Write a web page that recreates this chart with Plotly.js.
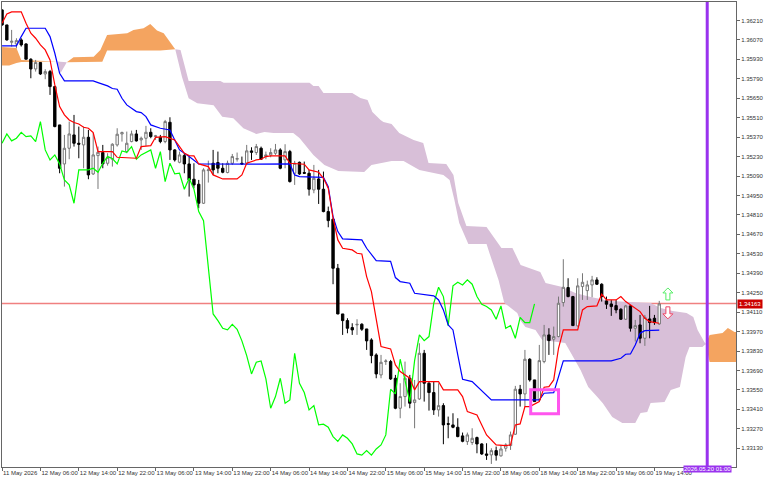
<!DOCTYPE html>
<html>
<head>
<meta charset="utf-8">
<script src="https://cdn.plot.ly/plotly-3.0.1.min.js"></script>
<style>
  html, body { margin: 0; padding: 0; background: #fff; }
</style>
</head>
<body>
<div id="chart" style="width:768px;height:480px"></div>
<script>
// H1 candles, bar 0 = 11 May 2026 22:00
var open = [1.36286,1.36178,1.36053,1.36041,1.36070,1.36041,1.35931,1.35861,1.35907,1.35825,
  1.35842,1.35734,1.35458,1.35177,1.35290,1.35386,1.35326,1.35314,1.35369,1.35105,
  1.35237,1.35259,1.35182,1.35211,1.35314,1.35393,1.35266,1.35338,1.35393,1.35350,
  1.35362,1.35405,1.35374,1.35369,1.35338,1.35477,1.35278,1.35189,1.35237,1.35177,
  1.35067,1.35031,1.34894,1.35129,1.35182,1.35187,1.35146,1.35115,1.35182,1.35211,
  1.35182,1.35182,1.35271,1.35259,1.35290,1.35230,1.35242,1.35254,1.35278,1.35206,
  1.35266,1.35110,1.35189,1.35115,1.35110,1.34990,1.35069,1.34995,1.34834,1.34779,
  1.34426,1.34097,1.34049,1.33999,1.34018,1.34023,1.33989,1.33910,1.33802,1.33658,
  1.33754,1.33754,1.33634,1.33418,1.33502,1.33634,1.33459,1.33485,1.33814,1.33598,
  1.33531,1.33406,1.33437,1.33307,1.33298,1.33281,1.33219,1.33178,1.33171,1.33207,
  1.33161,1.33089,1.33082,1.33113,1.33075,1.33130,1.33149,1.33231,1.33555,1.33521,
  1.33771,1.33622,1.33478,1.33754,1.33946,1.33915,1.33934,1.34179,1.34287,1.34222,
  1.34011,1.34294,1.34265,1.34306,1.34342,1.34311,1.34191,1.34169,1.34157,1.34131,
  1.34059,1.34155,1.33994,1.34018,1.33922,1.34061,1.34066,1.34025];
var high = [1.36291,1.36178,1.36142,1.36082,1.36082,1.36046,1.35938,1.35926,1.35907,1.35859,
  1.35854,1.35739,1.35458,1.35386,1.35482,1.35530,1.35446,1.35446,1.35422,1.35398,
  1.35302,1.35314,1.35254,1.35326,1.35434,1.35410,1.35410,1.35417,1.35422,1.35374,
  1.35451,1.35434,1.35386,1.35386,1.35494,1.35513,1.35283,1.35266,1.35254,1.35230,
  1.35182,1.35062,1.35146,1.35201,1.35278,1.35266,1.35182,1.35201,1.35249,1.35259,
  1.35230,1.35314,1.35297,1.35321,1.35302,1.35266,1.35290,1.35321,1.35290,1.35319,
  1.35278,1.35199,1.35194,1.35194,1.35134,1.35170,1.35134,1.35122,1.34870,1.34786,
  1.34457,1.34097,1.34066,1.34030,1.34059,1.34030,1.33989,1.33922,1.33814,1.33802,
  1.33771,1.33766,1.33658,1.33598,1.33754,1.33658,1.33622,1.33886,1.33838,1.33610,
  1.33610,1.33598,1.33454,1.33358,1.33382,1.33346,1.33243,1.33243,1.33274,1.33214,
  1.33166,1.33166,1.33130,1.33142,1.33154,1.33166,1.33250,1.33579,1.33586,1.33838,
  1.33778,1.33622,1.33874,1.34018,1.33994,1.34006,1.34222,1.34491,1.34354,1.34227,
  1.34354,1.34390,1.34337,1.34371,1.34361,1.34318,1.34222,1.34198,1.34198,1.34138,
  1.34162,1.34162,1.34054,1.34090,1.34090,1.34155,1.34090,1.34191];
var low = [1.36171,1.36065,1.36022,1.36010,1.36022,1.35931,1.35794,1.35842,1.35818,1.35787,
  1.35674,1.35441,1.35110,1.35014,1.35211,1.35302,1.35218,1.35146,1.35067,1.35098,
  1.34997,1.35146,1.35165,1.35158,1.35302,1.35338,1.35254,1.35333,1.35338,1.35278,
  1.35307,1.35362,1.35350,1.35326,1.35326,1.35206,1.35194,1.35182,1.35110,1.34942,
  1.35002,1.34858,1.34889,1.35043,1.35098,1.35110,1.35110,1.35110,1.35170,1.35194,
  1.35170,1.35170,1.35206,1.35242,1.35206,1.35211,1.35225,1.35242,1.35139,1.35146,
  1.35043,1.35026,1.35098,1.35105,1.34949,1.34966,1.34889,1.34829,1.34721,1.34311,
  1.34095,1.33946,1.33958,1.33946,1.33946,1.33975,1.33838,1.33742,1.33634,1.33634,
  1.33730,1.33622,1.33411,1.33346,1.33430,1.33418,1.33274,1.33478,1.33466,1.33401,
  1.33370,1.33358,1.33159,1.33202,1.33274,1.33209,1.33173,1.33154,1.33154,1.33094,
  1.33082,1.33046,1.33017,1.33041,1.33070,1.33106,1.33118,1.33226,1.33430,1.33430,
  1.33610,1.33466,1.33466,1.33742,1.33802,1.33802,1.33929,1.34150,1.34217,1.34011,
  1.34006,1.34198,1.34198,1.34217,1.34306,1.34186,1.34133,1.34083,1.34102,1.34054,
  1.34054,1.33970,1.33898,1.33886,1.33867,1.33922,1.34018,1.34018];
var close = [1.36178,1.36070,1.36060,1.36065,1.36034,1.35931,1.35861,1.35907,1.35825,1.35842,
  1.35734,1.35446,1.35146,1.35290,1.35393,1.35326,1.35319,1.35369,1.35098,1.35242,
  1.35261,1.35177,1.35225,1.35319,1.35391,1.35403,1.35326,1.35393,1.35343,1.35362,
  1.35405,1.35374,1.35379,1.35338,1.35482,1.35278,1.35206,1.35242,1.35177,1.35062,
  1.35026,1.34894,1.35134,1.35134,1.35134,1.35146,1.35117,1.35182,1.35230,1.35216,
  1.35177,1.35271,1.35261,1.35302,1.35211,1.35242,1.35259,1.35278,1.35146,1.35266,
  1.35050,1.35182,1.35105,1.35110,1.34995,1.35074,1.34995,1.34834,1.34769,1.34426,
  1.34097,1.34049,1.33994,1.33982,1.34022,1.33987,1.33903,1.33797,1.33665,1.33749,
  1.33758,1.33629,1.33418,1.33502,1.33634,1.33454,1.33478,1.33814,1.33598,1.33531,
  1.33406,1.33437,1.33298,1.33303,1.33281,1.33214,1.33180,1.33226,1.33202,1.33161,
  1.33089,1.33080,1.33113,1.33080,1.33125,1.33154,1.33226,1.33555,1.33521,1.33771,
  1.33622,1.33466,1.33761,1.33946,1.33905,1.33934,1.34174,1.34289,1.34222,1.34013,
  1.34299,1.34325,1.34306,1.34342,1.34311,1.34222,1.34167,1.34150,1.34126,1.34059,
  1.34155,1.33994,1.34013,1.33922,1.34073,1.34035,1.34035,1.34169];

// chikou span starts at bar 0
var chikou = [1.35326,1.35393,1.35343,1.35362,1.35405,1.35374,1.35379,1.35338,1.35482,1.35278,
  1.35206,1.35242,1.35177,1.35062,1.35026,1.34894,1.35134,1.35134,1.35134,1.35146,
  1.35117,1.35182,1.35230,1.35216,1.35177,1.35271,1.35261,1.35302,1.35211,1.35242,
  1.35259,1.35278,1.35146,1.35266,1.35050,1.35182,1.35105,1.35110,1.34995,1.35074,
  1.34995,1.34834,1.34769,1.34426,1.34097,1.34049,1.33994,1.33982,1.34022,1.33987,
  1.33903,1.33797,1.33665,1.33749,1.33758,1.33629,1.33418,1.33502,1.33634,1.33454,
  1.33478,1.33814,1.33598,1.33531,1.33406,1.33437,1.33298,1.33303,1.33281,1.33214,
  1.33180,1.33226,1.33202,1.33161,1.33089,1.33080,1.33113,1.33080,1.33125,1.33154,
  1.33226,1.33555,1.33521,1.33771,1.33622,1.33466,1.33761,1.33946,1.33905,1.33934,
  1.34174,1.34289,1.34222,1.34013,1.34299,1.34325,1.34306,1.34342,1.34311,1.34222,
  1.34167,1.34150,1.34126,1.34059,1.34155,1.33994,1.34013,1.33922,1.34073,1.34035,
  1.34035,1.34169];

var tenkanBars = [0,1,2,4,5,6,7,8,9,10,11,12,13,14,15,16,17,18,19,20,23,24,28,29,31,32,34,36,37,38,39,40,41,43,44,46,49,50,51,53,
  54,55,56,59,60,63,64,66,67,68,69,70,71,73,74,75,76,77,78,79,81,82,83,85,86,87,91,92,95,96,97,99,101,103,105,106,107,108,109,110,112,113,114,115,116,117,
  120,121,122,124,125,126,128,129,130,132,133,134,135,137];
var tenkan = [1.36190,1.36257,1.36272,1.36272,1.36190,1.36118,1.36082,1.36034,1.35998,1.35926,1.35746,1.35590,1.35530,1.35494,1.35475,1.35465,1.35441,1.35434,1.35403,1.35266,1.35266,1.35225,1.35218,1.35302,1.35309,1.35369,1.35374,1.35350,1.35302,1.35254,1.35237,1.35235,1.35177,1.35158,1.35098,1.35069,1.35069,1.35098,1.35182,1.35206,
  1.35211,1.35230,1.35235,1.35235,1.35182,1.35175,1.35134,1.35117,1.35074,1.35002,1.34786,1.34630,1.34570,1.34558,1.34534,1.34529,1.34366,1.34258,1.34059,1.33862,1.33845,1.33730,1.33682,1.33634,1.33550,1.33610,1.33610,1.33550,1.33550,1.33502,1.33394,1.33370,1.33226,1.33154,1.33149,1.33154,1.33298,1.33305,1.33430,1.33430,1.33466,1.33569,1.33574,1.33622,1.33850,1.33982,
  1.33982,1.34126,1.34150,1.34155,1.34239,1.34198,1.34198,1.34222,1.34186,1.34138,1.34114,1.34066,1.34042,1.34030];

var kijunBars = [0,3,4,5,9,10,11,12,13,19,20,22,23,24,25,26,28,29,30,31,33,34,35,36,37,39,41,53,60,61,62,67,68,69,70,71,75,76,78,81,82,83,85,86,90,91,92,93,94,95,96,98,102,112,113,115,117,127,129,130,131,132,133,134,137];
var kijun = [1.36027,1.36027,1.36094,1.36154,1.36154,1.36094,1.35974,1.35830,1.35775,1.35775,1.35763,1.35739,1.35720,1.35715,1.35650,1.35602,1.35554,1.35547,1.35518,1.35458,1.35434,1.35427,1.35422,1.35350,1.35278,1.35230,1.35177,1.35175,1.35177,1.35098,1.35086,1.35081,1.35014,1.34798,1.34690,1.34637,1.34630,1.34570,1.34481,1.34476,1.34359,1.34330,1.34318,1.34246,1.34227,1.34198,1.34126,1.34018,1.33982,1.33802,1.33627,1.33610,1.33478,1.33478,1.33526,1.33531,1.33759,1.33759,1.33778,1.33807,1.33809,1.33874,1.33958,1.33977,1.33980];

// kumo pieces, edges read separately
var orange1TopBars = [0,3,4,11.5];
var orange1Top = [1.36019,1.36012,1.35926,1.35915];
var orange1BotBars = [0,1.5,3,4,11.5];
var orange1Bot = [1.35886,1.35886,1.35904,1.35911,1.35915];

var thistle1TopBars = [11.5,13.5];
var thistle1Top = [1.35915,1.35909];
var thistle1BotBars = [11.5,12.2,13.5];
var thistle1Bot = [1.35915,1.35832,1.35909];

var orange2TopBars = [13.5,14.9,19.1,20.5,21.9,26.1,27.4,29.5,30.9,32.3,33.7,36.1];
var orange2Top = [1.35909,1.35945,1.35949,1.35998,1.36106,1.36118,1.36142,1.36154,1.36185,1.36137,1.36118,1.36003];
var orange2BotBars = [13.5,20.9,21.9,33,36.1];
var orange2Bot = [1.35909,1.35913,1.35993,1.35993,1.36003];

var thistle2TopBars = [36.1,37.2,38.9,45.5,46.2,64.1,64.9,66,67,73,74.7,76.2,77.2,78.9,79.5,81.2,82.8,85.8,87.8,88.9,92.6,94.1,95.1,96.8,101,104.1,106.4,108.1,112.2,113.3,116.8,119.5,122.7,126.8,135.2,137.3,139.8,142.7,144.1,145,146.4,146.7];
var thistle2Top = [1.36003,1.35998,1.35774,1.35774,1.35762,1.35762,1.35738,1.35738,1.35688,1.35688,1.35652,1.35638,1.35551,1.35494,1.35479,1.35465,1.35400,1.35350,1.35328,1.35184,1.35177,1.35098,1.34896,1.34730,1.34723,1.34572,1.34572,1.34450,1.34399,1.34320,1.34291,1.34248,1.34219,1.34190,1.34176,1.34140,1.34118,1.34104,1.34075,1.33982,1.33895,1.33880];
var thistle2BotBars = [36.1,37.5,38.9,40.7,44.1,45.9,48.2,50.3,53,54.7,56.6,60.7,62,64.9,67.2,70.1,75.5,77,81.2,83.7,87,92,93.3,94.3,95.3,97.2,101,101.6,103.5,104.7,107.4,108,109.1,111.2,112.6,117.4,120.6,122.2,124.1,125.2,127.2,129.3,132,133.1,134.5,135.2,138.1,139.4,141.3,142.5,143.3,146,146.7];
var thistle2Bot = [1.36003,1.35805,1.35650,1.35614,1.35599,1.35517,1.35506,1.35434,1.35393,1.35407,1.35400,1.35400,1.35364,1.35242,1.35170,1.35126,1.35119,1.35170,1.35198,1.35198,1.35134,1.35098,1.35062,1.34918,1.34752,1.34601,1.34601,1.34536,1.34342,1.34176,1.34104,1.34054,1.34003,1.33982,1.33910,1.33888,1.33694,1.33571,1.33499,1.33456,1.33355,1.33312,1.33312,1.33384,1.33391,1.33456,1.33463,1.33550,1.33571,1.33787,1.33859,1.33859,1.33880];

var orange3TopBars = [146.7,147.5,150.2,151.3,152.7,153.5];
var orange3Top = [1.33880,1.33946,1.33960,1.33996,1.33967,1.33967];
var orange3BotBars = [146.7,147.5,153.5];
var orange3Bot = [1.33880,1.33751,1.33751];

var priceTicks = [1.36210,1.36070,1.35930,1.35790,1.35650,1.35510,1.35370,1.35230,1.35090,1.34950,1.34810,1.34670,1.34530,1.34390,1.34250,1.34110,1.33970,1.33830,1.33690,1.33550,1.33410,1.33270,1.33130];
var timeTickBars = [0,8,16,24,32,40,48,56,64,72,80,88,96,104,112,120,128,136];
var timeTickLabels = ['11 May 2026','12 May 06:00','12 May 14:00','12 May 22:00','13 May 06:00','13 May 14:00','13 May 22:00','14 May 06:00','14 May 14:00','14 May 22:00','15 May 06:00','15 May 14:00','15 May 22:00','18 May 06:00','18 May 14:00','18 May 22:00','19 May 06:00','19 May 14:00'];

var bidLevel = 1.34172;
var bidLabel = '1.34163';
var cursorBar = 147;
var cursorLabel = '2026.05.20 01:00';

var ORANGE = '#f4a460';
var THISTLE = '#d8bfd8';
var AXIS_FONT = {family: '"Liberation Sans", sans-serif', size: 6, color: '#333'};

// shapes sit under the candles, a filled scatter would cover them
function cloudPiece(topBars, top, botBars, bot, color) {
  var xs = topBars.concat(botBars.slice().reverse());
  var ys = top.concat(bot.slice().reverse());
  var d = xs.map(function(x, i) { return (i === 0 ? 'M' : 'L') + x + ',' + ys[i]; }).join(' ') + ' Z';
  return {type: 'path', xref: 'x', yref: 'y', path: d, fillcolor: color, line: {width: 0}, layer: 'below'};
}

function arrowShape(bar, price, tip, color) {
  // pixel outline around a data anchor, tip = 1 points up, -1 down
  var pts = [[0,6],[5,1],[2,1],[2,-6],[-2,-6],[-2,1],[-5,1]];
  var d = pts.map(function(p, i) { return (i === 0 ? 'M' : 'L') + p[0] + ',' + (p[1] * tip); }).join(' ') + ' Z';
  return {type: 'path', xref: 'x', yref: 'y', xsizemode: 'pixel', ysizemode: 'pixel', xanchor: bar, yanchor: price,
    path: d, fillcolor: '#fff', line: {color: color, width: 1}};
}

function lineTrace(x, y, color, width) {
  return {x: x, y: y, type: 'scatter', mode: 'lines', line: {color: color, width: width}, hoverinfo: 'skip'};
}

var bars = open.map(function(v, i) { return i; });

var candles = {
  x: bars, open: open, high: high, low: low, close: close,
  type: 'candlestick',
  whiskerwidth: 0,
  increasing: {line: {color: '#777', width: 1}, fillcolor: '#fff'},
  decreasing: {line: {color: '#000', width: 1}, fillcolor: '#000'},
  hoverinfo: 'skip'
};

var traces = [
  candles,
  lineTrace(bars.slice(0, chikou.length), chikou, '#00ff00', 1.2),
  lineTrace(kijunBars, kijun, '#0000ff', 1.2),
  lineTrace(tenkanBars, tenkan, '#ff0000', 1.2)
];

var layout = {
  width: 768,
  height: 480,
  margin: {l: 2, r: 32, t: 2, b: 13, pad: 0},
  paper_bgcolor: '#fff',
  plot_bgcolor: '#fff',
  showlegend: false,
  xaxis: {
    type: 'linear',
    range: [-0.01, 153],
    rangeslider: {visible: false},
    showgrid: false,
    zeroline: false,
    showline: true,
    mirror: true,
    linecolor: '#666',
    linewidth: 1,
    ticks: 'outside',
    ticklen: 3,
    tickwidth: 1,
    tickcolor: '#666',
    tickvals: timeTickBars,
    ticktext: timeTickLabels,
    ticklabelposition: 'outside right',
    tickfont: AXIS_FONT,
    tickangle: 0
  },
  yaxis: {
    side: 'right',
    range: [1.32995, 1.36343],
    showgrid: false,
    zeroline: false,
    showline: true,
    mirror: true,
    linecolor: '#666',
    linewidth: 1,
    ticks: 'outside',
    ticklen: 3,
    tickwidth: 1,
    tickcolor: '#666',
    tickvals: priceTicks,
    tickformat: '.5f',
    tickfont: AXIS_FONT
  },
  shapes: [
    cloudPiece(orange1TopBars, orange1Top, orange1BotBars, orange1Bot, ORANGE),
    cloudPiece(thistle1TopBars, thistle1Top, thistle1BotBars, thistle1Bot, THISTLE),
    cloudPiece(orange2TopBars, orange2Top, orange2BotBars, orange2Bot, ORANGE),
    cloudPiece(thistle2TopBars, thistle2Top, thistle2BotBars, thistle2Bot, THISTLE),
    cloudPiece(orange3TopBars, orange3Top, orange3BotBars, orange3Bot, ORANGE),
    {type: 'line', xref: 'paper', x0: 0, x1: 1, yref: 'y', y0: bidLevel, y1: bidLevel, line: {color: '#f08080', width: 1.5}, layer: 'below'},
    {type: 'line', xref: 'x', x0: cursorBar, x1: cursorBar, yref: 'paper', y0: 0, y1: 1, line: {color: '#9933ee', width: 3}},
    {type: 'rect', xref: 'x', yref: 'y', x0: 110.2, x1: 116, y0: 1.33379, y1: 1.33552, line: {color: '#ff55ee', width: 3}},
    arrowShape(138.8, 1.34241, 1, '#55ee66'),
    arrowShape(138.8, 1.34105, -1, '#ee4466')
  ],
  annotations: [
    {xref: 'paper', yref: 'y', x: 1.002, xanchor: 'left', y: bidLevel, text: bidLabel, showarrow: false, bgcolor: '#cc0000', borderpad: 1, font: {family: '"Liberation Sans", sans-serif', size: 6, color: '#fff'}},
    {xref: 'x', yref: 'paper', x: cursorBar, y: -0.0129, text: cursorLabel, showarrow: false, bgcolor: '#9933ee', borderpad: 0, font: {family: '"Liberation Sans", sans-serif', size: 6, color: '#fff'}}
  ]
};

Plotly.newPlot('chart', traces, layout, {staticPlot: true, displayModeBar: false});
</script>
</body>
</html>
